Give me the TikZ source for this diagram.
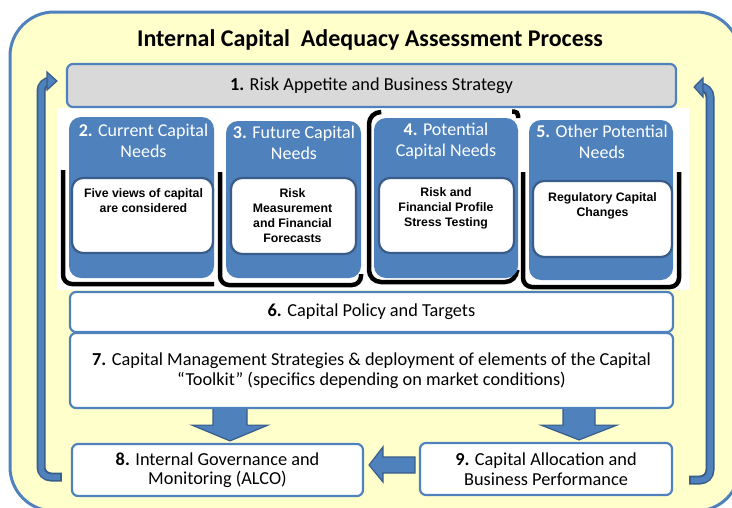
\documentclass[tikz,border=0pt]{standalone}
\usepackage{fontspec}
\setmainfont{Carlito}
\newfontfamily\detailfont{Liberation Sans}
\usetikzlibrary{calc}
\definecolor{frameblue}{HTML}{4F81BD}
\definecolor{darkblue}{HTML}{385D8A}
\definecolor{paleyellow}{HTML}{FFFFCC}
\definecolor{stepgray}{HTML}{D9D9D9}
\newcommand{\bodysize}{\fontsize{18.3}{19.5}\selectfont}
\begin{document}
\begin{tikzpicture}[x=1pt,y=-1pt,
  frame/.style={draw=frameblue, line width=3pt, fill=paleyellow, rounded corners=44pt},
  stepbox/.style={draw=frameblue, line width=2.2pt, rounded corners=6pt, fill=white,
    inner sep=0pt, align=center, font=\bodysize},
  needbox/.style={fill=frameblue, rounded corners=12pt, inner sep=0pt},
  detailbox/.style={fill=white, draw=darkblue, line width=2.2pt, rounded corners=11pt, inner sep=0pt},
  needtitle/.style={text=white, align=center, font=\fontsize{18}{21}\selectfont, inner sep=0pt},
  detailtext/.style={align=center, font=\detailfont\bfseries\fontsize{12.3}{15}\selectfont, inner sep=0pt},
  shadowline/.style={draw=black, line width=4.5pt, rounded corners=9pt},
  blockarrow/.style={fill=frameblue, draw=darkblue, line width=1.2pt, line join=miter},
  loopouter/.style={draw=darkblue, line width=9pt, rounded corners=10pt},
  loopinner/.style={draw=frameblue, line width=5.5pt, rounded corners=9pt},
]
\useasboundingbox (0,0) rectangle (732,507);
\clip (0,0) rectangle (732,507);

% outer frame and title
\draw[frame] (10,12) rectangle (740,511);
\node[font=\bfseries\fontsize{24}{26}\selectfont, inner sep=0pt] (title) at (370,40)
  {Internal Capital\ \ Adequacy Assessment Process};

% white band behind the four capital-need panels
\fill[white] (57,108) rectangle (689,290);

% step 1
\node[stepbox, fill=stepgray, minimum width=609pt, minimum height=43pt] (s1) at (371.5,85.5)
  {\textbf{1.} Risk Appetite and Business Strategy};

% shadows of the capital-need panels
\draw[shadowline] (63,170) -- (63,284) -- (214,284);
\draw[shadowline] (220,172) -- (220,285) -- (361,285) -- (361,274);
\draw[shadowline, rounded corners=12pt] (380,112) -- (369,112) -- (369,282) -- (517,282) -- (517,272);
\draw[shadowline, rounded corners=4pt] (512,111.5) -- (518,111.5) -- (518,118);
\draw[shadowline] (523,172) -- (523,287) -- (679,287) -- (679,172);

% capital-need panels
\node[needbox, minimum width=145pt, minimum height=161pt] (s2) at (141.5,197.5) {};
\node[needbox, minimum width=135pt, minimum height=157pt] (s3) at (293.5,199.5) {};
\node[needbox, minimum width=144pt, minimum height=160pt] (s4) at (446,198) {};
\node[needbox, minimum width=144pt, minimum height=160pt] (s5) at (601,200) {};

\node[needtitle] (t2) at (143.5,140.5) {\textbf{2.} Current Capital\\Needs};
\node[needtitle] (t3) at (294,143) {\textbf{3.} Future Capital\\Needs};
\node[needtitle] (t4) at (446,141.5) {\textbf{4.} Potential\\Capital Needs};
\node[needtitle] (t5) at (602,141.5) {\textbf{5.} Other Potential\\Needs};

\node[detailbox, minimum width=141pt, minimum height=75pt] (d2) at (142.5,215.5) {};
\node[detailbox, minimum width=125pt, minimum height=76pt] (d3) at (293.5,216) {};
\node[detailbox, minimum width=135pt, minimum height=75pt] (d4) at (446.5,215.5) {};
\node[detailbox, minimum width=139pt, minimum height=76pt] (d5) at (602.5,219) {};

\node[detailtext] (x2) at (143.5,200.5) {Five views of capital\\are considered};
\node[detailtext] (x3) at (292.5,215.5) {Risk\\Measurement\\and Financial\\Forecasts};
\node[detailtext] (x4) at (446,208) {Risk and\\Financial Profile\\Stress Testing};
\node[detailtext] (x5) at (602.5,205.5) {Regulatory Capital\\Changes};

% steps 6 to 9
\node[stepbox, minimum width=603pt, minimum height=40pt] (s6) at (371.5,312)
  {\textbf{6.} Capital Policy and Targets};
\node[stepbox, minimum width=603pt, minimum height=75pt] (s7) at (371.5,370.5)
  {\textbf{7.} Capital Management Strategies \& deployment of elements of the Capital\\
   “Toolkit” (specifics depending on market conditions)};
\node[stepbox, minimum width=291pt, minimum height=52pt] (s8) at (217.5,470)
  {\textbf{8.} Internal Governance and\\Monitoring (ALCO)};
\node[stepbox, minimum width=252pt, minimum height=52pt] (s9) at (546,469)
  {\textbf{9.} Capital Allocation and\\Business Performance};

% block arrows between the steps
\coordinate (ax) at (230,0);
\coordinate (bx) at (579,0);
\coordinate (a0) at (s7.south -| ax);
\coordinate (b0) at (s7.south -| bx);
\draw[blockarrow] ($(a0)+(-17,0)$) -- ($(a0)+(-17,16)$) -- ($(a0)+(-38,16)$)
  -- ($(s8.north -| ax)+(0,-2)$) -- ($(a0)+(38,16)$) -- ($(a0)+(17,16)$) -- ($(a0)+(17,0)$);
\draw[blockarrow] ($(b0)+(-16,0)$) -- ($(b0)+(-16,16)$) -- ($(b0)+(-38,16)$)
  -- ($(s9.north -| bx)+(0,-2)$) -- ($(b0)+(38,16)$) -- ($(b0)+(16,16)$) -- ($(b0)+(16,0)$);
\coordinate (c0) at ($(s9.west)+(-4,-4)$);
\draw[blockarrow] (c0) ++(0,-8) -- ($(c0)+(-32,-8)$) -- ($(c0)+(-32,-18)$)
  -- ($(s8.east)+(5,-5)$) -- ($(c0)+(-32,17)$) -- ($(c0)+(-32,8)$) -- ($(c0)+(0,8)$) -- cycle;

% feedback loops at both sides
\coordinate (L0) at ($(s8.west)+(-9,7)$);
\coordinate (L1) at (41,477);
\coordinate (L2) at (41,81);
\coordinate (L3) at (49,81);
\draw[loopouter] (L0) -- (L1) -- (L2) -- (L3);
\draw[loopinner, shorten <=1.7pt] (L0) -- (L1) -- (L2) -- (L3);
\filldraw[blockarrow] ($(s1.west)+(-9,-4.5)$) -- (47,72) -- (47,90) -- cycle;

\coordinate (R0) at ($(s9.east)+(16,11)$);
\coordinate (R1) at (710,480);
\coordinate (R2) at (710,87);
\coordinate (R3) at (702,87);
\draw[loopouter] (R0) -- (R1) -- (R2) -- (R3);
\draw[loopinner, shorten <=1.7pt] (R0) -- (R1) -- (R2) -- (R3);
\filldraw[blockarrow] ($(s1.east)+(17,1.5)$) -- (703,78) -- (703,97) -- cycle;
\end{tikzpicture}
\end{document}
